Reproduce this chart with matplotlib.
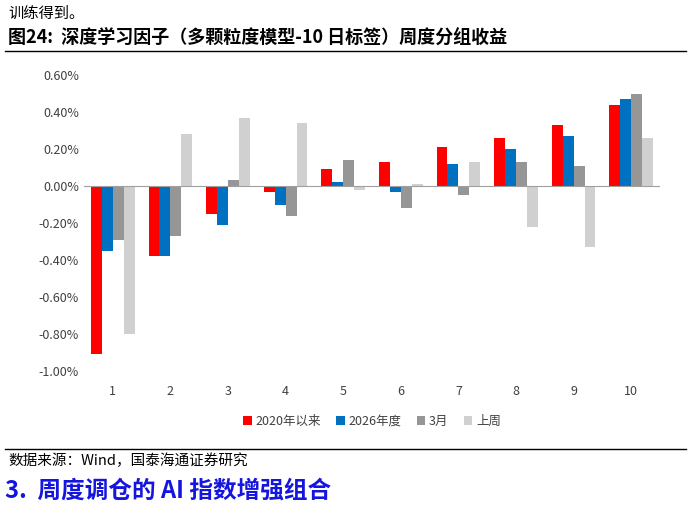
import matplotlib
matplotlib.use("Agg")
import matplotlib.pyplot as plt
import numpy as np
from matplotlib.ticker import FuncFormatter

plt.rcParams['font.family'] = ['Noto Sans CJK SC', 'DejaVu Sans']

groups = ['1', '2', '3', '4', '5', '6', '7', '8', '9', '10']
series = ['2020年以来', '2026年度', '3月', '上周']
s2020 = [-0.91, -0.38, -0.15, -0.03, 0.09, 0.13, 0.21, 0.26, 0.33, 0.44]
s2026 = [-0.35, -0.38, -0.21, -0.10, 0.02, -0.03, 0.12, 0.20, 0.27, 0.47]
smar = [-0.29, -0.27, 0.03, -0.16, 0.14, -0.12, -0.05, 0.13, 0.11, 0.50]
sweek = [-0.80, 0.28, 0.37, 0.34, -0.02, 0.01, 0.13, -0.22, -0.33, 0.26]
colors = ['#FF0000', '#0070C0', '#969696', '#D0D0D0']

W, H = 691, 523
fig = plt.figure(figsize=(W/100, H/100), dpi=100)
ax = fig.add_axes([84/W, 1-371/H, (660-84)/W, 296/H])

x = np.arange(len(groups))
bw = 0.19
for i, (vals, c, lab) in enumerate(zip([s2020, s2026, smar, sweek], colors, series)):
    ax.bar(x + (i-1.5)*bw, vals, bw, color=c, label=lab)

ax.set_ylim(-1.0, 0.6)
ax.set_xlim(-0.5, 9.5)
ax.set_yticks(np.arange(-1.0, 0.61, 0.2))
ax.yaxis.set_major_formatter(FuncFormatter(lambda v, p: f"{0.0 if abs(v) < 1e-9 else v:.2f}%"))
ax.axhline(0, color='#A0A0A0', lw=0.8)
for s in ax.spines.values():
    s.set_visible(False)
ax.set_xticks(x)
ax.set_xticklabels(groups)
ax.tick_params(axis='both', length=0, labelsize=9, colors='#404040')
ax.tick_params(axis='x', pad=10)
ax.legend(loc='upper center', bbox_to_anchor=(0.5, -0.11), ncol=4, frameon=False,
          fontsize=9, handlelength=0.7, handleheight=0.7, handletextpad=0.3,
          columnspacing=1.2, labelcolor='#404040')

fig.text(8/W, 1-13/H, '训练得到。', fontsize=11, va='center')
fig.text(8/W, 1-38/H, '图24:  深度学习因子（多颗粒度模型-10 日标签）周度分组收益',
         fontsize=13, fontweight='bold', va='center')
fig.add_artist(plt.Line2D([5/W, 686/W], [1-51/H, 1-51/H], color='black', lw=1))
fig.add_artist(plt.Line2D([5/W, 686/W], [1-449/H, 1-449/H], color='black', lw=1))
fig.text(8/W, 1-461/H, '数据来源：Wind，国泰海通证券研究', fontsize=10.5, va='center')
fig.text(5/W, 1-491/H, '3.  周度调仓的 AI 指数增强组合', fontsize=17, fontweight='bold',
         color='#1515E0', va='center')

fig.savefig('out.png', dpi=100)
